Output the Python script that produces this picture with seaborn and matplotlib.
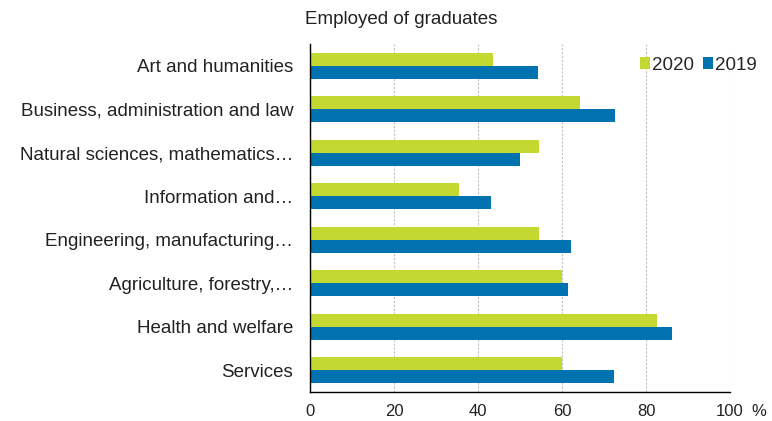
import matplotlib
matplotlib.use("Agg")
import matplotlib.pyplot as plt
import seaborn as sns
import pandas as pd

categories = [
    "Art and humanities",
    "Business, administration and law",
    "Natural sciences, mathematics…",
    "Information and…",
    "Engineering, manufacturing…",
    "Agriculture, forestry,…",
    "Health and welfare",
    "Services",
]
values_2020 = [43.5, 64.4, 54.5, 35.5, 54.5, 59.9, 82.7, 59.9]
values_2019 = [54.2, 72.6, 49.9, 43.1, 62.2, 61.5, 86.1, 72.4]
years = ["2020", "2019"]
x_ticks = [0, 20, 40, 60, 80, 100]
title = "Employed of graduates"

df = pd.DataFrame({
    "category": categories * 2,
    "value": values_2020 + values_2019,
    "year": [years[0]] * len(categories) + [years[1]] * len(categories),
})

sns.set_theme(style="white")
plt.rcParams["font.family"] = ["Liberation Sans", "DejaVu Sans"]

fig = plt.figure(figsize=(7.72, 4.21), dpi=100)
ax = fig.add_axes([310 / 772, 1 - 392 / 421, 420 / 772, 348 / 421])

sns.barplot(data=df, y="category", x="value", hue="year", hue_order=years,
            order=categories, orient="h", width=0.6, saturation=1,
            palette={"2020": "#c3d830", "2019": "#0072b0"},
            edgecolor="none", ax=ax)

ax.set_xlim(0, 100)
ax.set_xticks(x_ticks)
ax.set_xticklabels([str(t) for t in x_ticks])
ax.set_xlabel("")
ax.set_ylabel("")
ax.xaxis.grid(True, color="#c0c0c0", linestyle=(0, (2, 1.5)), linewidth=0.8)
ax.set_axisbelow(True)
for s in ["top", "right"]:
    ax.spines[s].set_visible(False)
for s in ["left", "bottom"]:
    ax.spines[s].set_color("black")
    ax.spines[s].set_linewidth(1.0)
ax.tick_params(axis="y", length=0, pad=12, labelsize=13.5, labelcolor="#222222")
ax.tick_params(axis="x", length=0, pad=9, labelsize=12, labelcolor="#222222")

fig.text(751 / 772, 1 - 411 / 421, "%", fontsize=12, color="#222222",
         ha="left", va="center")
fig.text(305 / 772, 1 - 20 / 421, title, fontsize=13.5, color="#222222",
         ha="left", va="center")

handles, labels = ax.get_legend_handles_labels()
ax.legend(handles, labels, loc="center right", bbox_to_anchor=(757 / 772, 1 - 65 / 421),
          bbox_transform=fig.transFigure, frameon=False, ncol=2,
          handlelength=0.55, handleheight=0.55, handletextpad=0.1,
          columnspacing=0.5, fontsize=13.5, borderpad=0, borderaxespad=0)

fig.savefig("out.png", dpi=100)
